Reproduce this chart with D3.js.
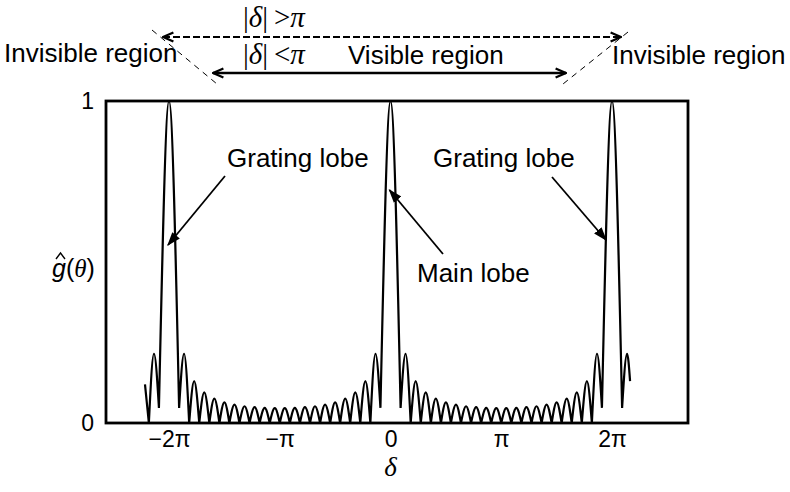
<!DOCTYPE html>
<html>
<head>
<meta charset="utf-8">
<script src="https://cdn.jsdelivr.net/npm/d3@7"></script>
<style>
  html, body { margin: 0; padding: 0; background: #fff; }
  svg { display: block; }
</style>
</head>
<body>
<div id="chart"></div>
<script>
// lobe boundaries (nulls / minima), delta in units of pi, and the level there
const edgeDelta = [
  -2.217, -2.182, -2.091, -1.909, -1.818, -1.727, -1.636, -1.545, -1.455, -1.364,
  -1.273, -1.182, -1.091, -1.0, -0.909, -0.818, -0.727, -0.636, -0.545, -0.455,
  -0.364, -0.273, -0.182, -0.091, 0.091, 0.182, 0.273, 0.364, 0.455, 0.545,
  0.636, 0.727, 0.818, 0.909, 1.0, 1.091, 1.182, 1.273, 1.364, 1.455,
  1.545, 1.636, 1.727, 1.818, 1.909, 2.091, 2.163
];
const edgeLevel = [
  0.12, 0, 0.047, 0.047, 0, 0, 0, 0, 0, 0,
  0, 0, 0, 0, 0, 0, 0, 0, 0, 0,
  0, 0, 0, 0.047, 0.047, 0, 0, 0, 0, 0,
  0, 0, 0, 0, 0, 0, 0, 0, 0, 0,
  0, 0, 0, 0, 0.047, 0.047, 0.13
];
// lobe tops between consecutive edges (null = partial lobe, no top shown)
const peakDelta = [
  null, -2.136, -2.0, -1.864, -1.773, -1.682, -1.591, -1.5, -1.409, -1.318,
  -1.227, -1.136, -1.045, -0.955, -0.864, -0.773, -0.682, -0.591, -0.5, -0.409,
  -0.318, -0.227, -0.136, 0, 0.136, 0.227, 0.318, 0.409, 0.5, 0.591,
  0.682, 0.773, 0.864, 0.955, 1.045, 1.136, 1.227, 1.318, 1.409, 1.5,
  1.591, 1.682, 1.773, 1.864, 2.0, 2.136
];
const peakLevel = [
  null, 0.215, 1, 0.215, 0.13, 0.095, 0.076, 0.064, 0.057, 0.052,
  0.049, 0.047, 0.046, 0.046, 0.047, 0.049, 0.052, 0.057, 0.064, 0.076,
  0.095, 0.13, 0.215, 1, 0.215, 0.13, 0.095, 0.076, 0.064, 0.057,
  0.052, 0.049, 0.047, 0.046, 0.046, 0.047, 0.049, 0.052, 0.057, 0.064,
  0.076, 0.095, 0.13, 0.215, 1, 0.215
];

const xTicks = [-2, -1, 0, 1, 2];
const xTickLabels = ["\u22122\u03c0", "\u2212\u03c0", "0", "\u03c0", "2\u03c0"];
const yTicks = [0, 1];

const width = 790, height = 492;
const frame = { left: 106, right: 688, top: 101, bottom: 423 };
const sans = "'Liberation Sans', Arial, sans-serif";
const serif = "'Liberation Serif', 'Times New Roman', serif";

const svg = d3.select("#chart").append("svg")
    .attr("width", width)
    .attr("height", height);

const defs = svg.append("defs");
defs.append("marker")
    .attr("id", "tri")
    .attr("viewBox", "0 0 10 10")
    .attr("refX", 9).attr("refY", 5)
    .attr("markerWidth", 14).attr("markerHeight", 14)
    .attr("markerUnits", "userSpaceOnUse")
    .attr("orient", "auto")
    .append("path")
    .attr("d", "M0,1.5 L10,5 L0,8.5 Z")
    .attr("fill", "#000");
defs.append("marker")
    .attr("id", "chev")
    .attr("viewBox", "0 0 10 10")
    .attr("refX", 9).attr("refY", 5)
    .attr("markerWidth", 13).attr("markerHeight", 13)
    .attr("markerUnits", "userSpaceOnUse")
    .attr("orient", "auto-start-reverse")
    .append("path")
    .attr("d", "M1,1.5 L9,5 L1,8.5")
    .attr("fill", "none")
    .attr("stroke", "#000")
    .attr("stroke-width", 1.8);

// delta/pi -> px ; 0 sits at 390.5, one pi is ~110.75 px
const x = d3.scaleLinear()
    .domain([-2.569, 2.686])
    .range([frame.left, frame.right]);

const y = d3.scaleLinear()
    .domain([0, 1])
    .range([frame.bottom, frame.top]);

// frame
svg.append("rect")
    .attr("x", frame.left)
    .attr("y", frame.top)
    .attr("width", frame.right - frame.left)
    .attr("height", frame.bottom - frame.top)
    .attr("fill", "none")
    .attr("stroke", "#000")
    .attr("stroke-width", 2.8);

// curve, one arch per lobe so the nulls stay sharp
const lobeLine = d3.line()
    .x(d => x(d[0]))
    .y(d => y(d[1]))
    .curve(d3.curveMonotoneX);

const lobes = d3.range(peakDelta.length).map(i => {
    const pts = [[edgeDelta[i], edgeLevel[i]]];
    if (peakDelta[i] !== null) pts.push([peakDelta[i], peakLevel[i]]);
    pts.push([edgeDelta[i + 1], edgeLevel[i + 1]]);
    return pts;
});

svg.append("path")
    .attr("d", lobes.map(p => lobeLine(p)).join(""))
    .attr("fill", "none")
    .attr("stroke", "#000")
    .attr("stroke-width", 2.2)
    .attr("stroke-linejoin", "round");

// axes (labels only)
const xAxis = svg.append("g")
    .attr("transform", `translate(0,${frame.bottom})`)
    .call(d3.axisBottom(x).tickValues(xTicks).tickFormat((d, i) => xTickLabels[i]).tickSize(0).tickPadding(8))
    .call(g => g.select(".domain").remove());
xAxis.selectAll("text")
    .attr("font-family", sans)
    .attr("font-size", 23)
    .attr("fill", "#000");

const yAxis = svg.append("g")
    .attr("transform", `translate(${frame.left},0)`)
    .call(d3.axisLeft(y).tickValues(yTicks).tickFormat(d3.format("d")).tickSize(0).tickPadding(12))
    .call(g => g.select(".domain").remove());
yAxis.selectAll("text")
    .attr("font-family", sans)
    .attr("font-size", 23)
    .attr("fill", "#000");

svg.append("text")
    .attr("x", x(0))
    .attr("y", 476)
    .attr("text-anchor", "middle")
    .attr("font-family", serif)
    .attr("font-style", "italic")
    .attr("font-size", 27)
    .text("\u03b4");

// y label: g with hat, (theta)
const yLab = svg.append("text")
    .attr("x", 52)
    .attr("y", 277)
    .attr("font-family", sans)
    .attr("font-size", 25);
yLab.append("tspan").attr("font-style", "italic").text("g");
yLab.append("tspan").text("(");
yLab.append("tspan").attr("font-family", serif).attr("font-style", "italic").text("\u03b8");
yLab.append("tspan").text(")");
svg.append("path")
    .attr("d", "M56,259 L60.5,253 L65,259")
    .attr("fill", "none")
    .attr("stroke", "#000")
    .attr("stroke-width", 1.4);

// in-plot annotations
function note(label, tx, ty, x1, y1, x2, y2) {
    svg.append("text")
        .attr("x", tx).attr("y", ty)
        .attr("font-family", sans)
        .attr("font-size", 26)
        .text(label);
    svg.append("line")
        .attr("x1", x1).attr("y1", y1)
        .attr("x2", x2).attr("y2", y2)
        .attr("stroke", "#000")
        .attr("stroke-width", 1.8)
        .attr("marker-end", "url(#tri)");
}
note("Grating lobe", 227, 167, 225, 176, x(-2) - 1, 245);
note("Grating lobe", 433, 167, 552, 177, x(2) - 6, 240);
note("Main lobe", 417, 282, 443, 254, x(0) - 1, 190);

// region arrows above the frame
svg.append("line")
    .attr("x1", 163).attr("y1", 37)
    .attr("x2", 621).attr("y2", 37)
    .attr("stroke", "#000")
    .attr("stroke-width", 1.8)
    .attr("stroke-dasharray", "7,3")
    .attr("marker-start", "url(#chev)")
    .attr("marker-end", "url(#chev)");
svg.append("line")
    .attr("x1", 213).attr("y1", 73)
    .attr("x2", 566).attr("y2", 73)
    .attr("stroke", "#000")
    .attr("stroke-width", 2.4)
    .attr("marker-start", "url(#chev)")
    .attr("marker-end", "url(#chev)");
[[152, 30, 217, 84], [628, 32, 563, 84]].forEach(s => {
    svg.append("line")
        .attr("x1", s[0]).attr("y1", s[1])
        .attr("x2", s[2]).attr("y2", s[3])
        .attr("stroke", "#000")
        .attr("stroke-width", 1)
        .attr("stroke-dasharray", "6,5");
});

function absDelta(tx, ty, op) {
    const t = svg.append("text")
        .attr("x", tx).attr("y", ty)
        .attr("font-family", serif)
        .attr("font-size", 29);
    t.append("tspan").text("|");
    t.append("tspan").attr("font-style", "italic").text("\u03b4");
    t.append("tspan").text("|\u2009" + op);
    t.append("tspan").attr("font-style", "italic").text("\u03c0");
}
absDelta(243, 27, ">");
absDelta(243, 64, "<");

svg.append("text")
    .attr("x", 4).attr("y", 62)
    .attr("font-family", sans).attr("font-size", 26)
    .text("Invisible region");
svg.append("text")
    .attr("x", 612).attr("y", 64)
    .attr("font-family", sans).attr("font-size", 26)
    .text("Invisible region");
svg.append("text")
    .attr("x", 348).attr("y", 64)
    .attr("font-family", sans).attr("font-size", 26)
    .text("Visible region");
</script>
</body>
</html>
